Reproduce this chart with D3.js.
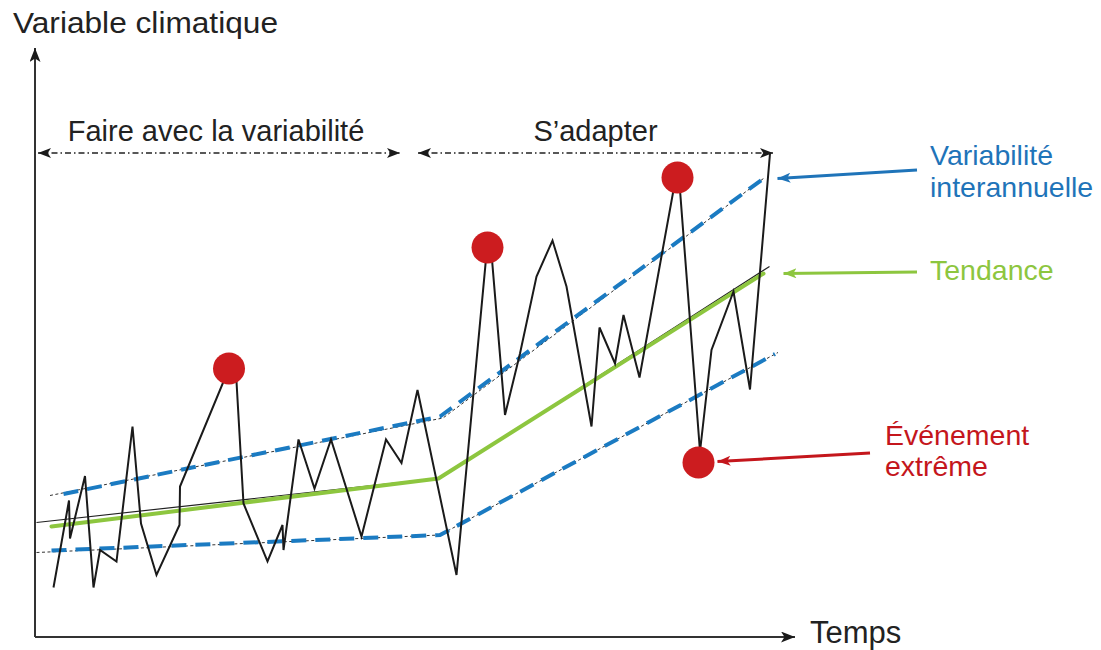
<!DOCTYPE html>
<html>
<head>
<meta charset="utf-8">
<script src="https://cdn.jsdelivr.net/npm/d3@7/dist/d3.min.js"></script>
<style>
  html, body { margin: 0; padding: 0; background: #fff; }
  svg { display: block; }
  text { font-family: "Liberation Sans", Arial, Helvetica, sans-serif; }
</style>
</head>
<body>
<svg id="chart" width="1101" height="650"></svg>
<script>
// ---- Data (time units / climate-variable units) ----
const seriesTime  = [3.7, 6.8, 7.0, 10.0, 11.7, 13.0, 16.3, 19.5, 21.2, 24.3, 28.9, 29.0, 37.7, 40.3, 41.7, 46.5, 49.5, 49.7, 52.7, 55.9, 59.2, 65.3, 70.2, 73.3, 76.5, 84.3, 90.3, 91.3, 94.0, 97.0, 100.3, 103.5, 106.3, 111.3, 112.9, 116.0, 117.7, 120.9, 127.7, 129.0, 133.0, 135.3, 139.7, 143.0, 147.0];
const seriesValue = [9.9, 27.3, 19.7, 32.2, 9.9, 17.4, 15.1, 42.1, 22.7, 12.4, 22.4, 30.1, 51.1, 51.1, 26.7, 15.1, 22.4, 17.4, 39.5, 29.7, 39.5, 20.1, 39.5, 34.8, 49.4, 12.4, 76.7, 76.7, 44.4, 56.7, 72.1, 79.3, 70.1, 42.1, 61.9, 54.7, 64.4, 51.9, 89.4, 89.4, 37.1, 57.4, 69.1, 49.5, 96.7];

const trendTime  = [3.3, 80.7, 145.7];
const trendValue = [22.1, 31.7, 72.7];
const trendRefTime  = [0.3, 81.0, 146.9];
const trendRefValue = [22.9, 31.8, 74.1];

const upperTime  = [5.7, 81.0, 145.7];
const upperValue = [28.6, 44.1, 91.7];
const upperRefTime  = [3.0, 81.6, 145.7];
const upperRefValue = [28.3, 43.8, 91.7];

const lowerTime  = [3.3, 81.0, 148.0];
const lowerValue = [17.3, 20.4, 56.6];
const lowerRefTime  = [0.3, 81.0, 148.6];
const lowerRefValue = [16.9, 20.4, 56.9];

const extremeTime  = [38.8, 90.5, 128.5, 132.7];
const extremeValue = [53.7, 77.9, 91.9, 34.9];

const phaseLabels = ["Faire avec la variabilité", "S\u2019adapter"];
const phaseStart  = [0.6, 76.6];
const phaseEnd    = [73.0, 147.6];

const axisLabels = ["Variable climatique", "Temps"];

// ---- Scales ----
const xScale = d3.scaleLinear().domain([0, 152]).range([35, 795]);
const yScale = d3.scaleLinear().domain([0, 117.8]).range([637, 48]);

const svg = d3.select("#chart");
svg.append("rect").attr("width", 1101).attr("height", 650).attr("fill", "#fff");

// ---- Markers ----
const defs = svg.append("defs");
function marker(id, color, len, wid) {
  defs.append("marker")
    .attr("id", id)
    .attr("viewBox", `0 0 ${len} ${wid}`)
    .attr("refX", len).attr("refY", wid / 2)
    .attr("markerWidth", len).attr("markerHeight", wid)
    .attr("markerUnits", "userSpaceOnUse")
    .attr("orient", "auto-start-reverse")
    .append("path")
    .attr("d", `M0,0 L${len},${wid / 2} L0,${wid} L${len * 0.25},${wid / 2} Z`)
    .attr("fill", color);
}
marker("arrAxis", "#1a1a1a", 14, 11);
marker("arrPhase", "#1a1a1a", 13, 10);
marker("arrBlue", "#1f74b9", 13, 10);
marker("arrGreen", "#8dc63f", 13, 10);
marker("arrRed", "#c4161c", 13, 10);

// ---- Axes ----
svg.append("line")
  .attr("x1", xScale(0)).attr("y1", yScale(0))
  .attr("x2", xScale(0)).attr("y2", yScale(117.8))
  .attr("stroke", "#333").attr("stroke-width", 2)
  .attr("marker-end", "url(#arrAxis)");
svg.append("line")
  .attr("x1", xScale(0)).attr("y1", yScale(0))
  .attr("x2", xScale(152)).attr("y2", yScale(0))
  .attr("stroke", "#333").attr("stroke-width", 2)
  .attr("marker-end", "url(#arrAxis)");

svg.append("text").attr("x", 13).attr("y", 33)
  .attr("font-size", 30).attr("fill", "#222")
  .attr("textLength", 265).attr("lengthAdjust", "spacingAndGlyphs")
  .text(axisLabels[0]);
svg.append("text").attr("x", 810).attr("y", 643)
  .attr("font-size", 31).attr("fill", "#222")
  .text(axisLabels[1]);

// ---- Phase arrows ----
const phaseY = 153;
phaseLabels.forEach((lab, i) => {
  svg.append("line")
    .attr("x1", xScale(phaseStart[i])).attr("y1", phaseY)
    .attr("x2", xScale(phaseEnd[i])).attr("y2", phaseY)
    .attr("stroke", "#222").attr("stroke-width", 1.4)
    .attr("stroke-dasharray", "6,3,1.5,3")
    .attr("marker-start", "url(#arrPhase)")
    .attr("marker-end", "url(#arrPhase)");
  svg.append("text")
    .attr("x", (xScale(phaseStart[i]) + xScale(phaseEnd[i])) / 2 + (i === 0 ? -3 : 0))
    .attr("y", 141)
    .attr("text-anchor", "middle")
    .attr("font-size", 29).attr("fill", "#222")
    .text(lab);
});

// ---- Lines ----
const line = d3.line().x(d => xScale(d[0])).y(d => yScale(d[1]));
const zip = (a, b) => a.map((v, i) => [v, b[i]]);

// thin reference dashed lines
[[upperRefTime, upperRefValue], [lowerRefTime, lowerRefValue]].forEach(([t, v]) => {
  svg.append("path").attr("d", line(zip(t, v)))
    .attr("fill", "none").attr("stroke", "#333").attr("stroke-width", 1)
    .attr("stroke-dasharray", "3,2.5");
});
// blue dashed bands
[[upperTime, upperValue], [lowerTime, lowerValue]].forEach(([t, v]) => {
  svg.append("path").attr("d", line(zip(t, v)))
    .attr("fill", "none").attr("stroke", "#1b7bc2").attr("stroke-width", 4)
    .attr("stroke-dasharray", "15,9");
});
// thin black trend
svg.append("path").attr("d", line(zip(trendRefTime, trendRefValue)))
  .attr("fill", "none").attr("stroke", "#222").attr("stroke-width", 1.2);
// green trend
svg.append("path").attr("d", line(zip(trendTime, trendValue)))
  .attr("fill", "none").attr("stroke", "#8dc63f").attr("stroke-width", 4)
  .attr("stroke-linejoin", "round").attr("stroke-linecap", "round");
// black series
svg.append("path").attr("d", line(zip(seriesTime, seriesValue)))
  .attr("fill", "none").attr("stroke", "#1a1a1a").attr("stroke-width", 2)
  .attr("stroke-linejoin", "miter");

// extreme events
svg.selectAll("circle.ext").data(zip(extremeTime, extremeValue)).enter()
  .append("circle").attr("class", "ext")
  .attr("cx", d => xScale(d[0])).attr("cy", d => yScale(d[1]))
  .attr("r", 16).attr("fill", "#cc1c1f");

// ---- Right annotations ----
const upEnd = [upperTime[2], upperValue[2]];
const trEnd = [trendTime[2], trendValue[2]];
const lowDot = [extremeTime[3], extremeValue[3]];

svg.append("line")
  .attr("x1", 917).attr("y1", 170)
  .attr("x2", xScale(upEnd[0]) + 14).attr("y2", yScale(upEnd[1]))
  .attr("stroke", "#1f74b9").attr("stroke-width", 3)
  .attr("marker-end", "url(#arrBlue)");
svg.append("line")
  .attr("x1", 917).attr("y1", 272)
  .attr("x2", xScale(trEnd[0]) + 20).attr("y2", yScale(trEnd[1]))
  .attr("stroke", "#8dc63f").attr("stroke-width", 3)
  .attr("marker-end", "url(#arrGreen)");
svg.append("line")
  .attr("x1", 870).attr("y1", 453)
  .attr("x2", xScale(lowDot[0]) + 19).attr("y2", yScale(lowDot[1]) - 1)
  .attr("stroke", "#c4161c").attr("stroke-width", 3)
  .attr("marker-end", "url(#arrRed)");

const annFont = 28.5;
svg.append("text").attr("x", 930).attr("y", 165).attr("font-size", annFont)
  .attr("fill", "#1f74b9").text("Variabilité");
svg.append("text").attr("x", 930).attr("y", 197).attr("font-size", annFont)
  .attr("fill", "#1f74b9").text("interannuelle");
svg.append("text").attr("x", 930).attr("y", 280).attr("font-size", annFont)
  .attr("fill", "#8dc63f").text("Tendance");
svg.append("text").attr("x", 885).attr("y", 445).attr("font-size", annFont)
  .attr("fill", "#c4161c").text("Événement");
svg.append("text").attr("x", 885).attr("y", 476).attr("font-size", annFont)
  .attr("fill", "#c4161c").text("extrême");
</script>
</body>
</html>
